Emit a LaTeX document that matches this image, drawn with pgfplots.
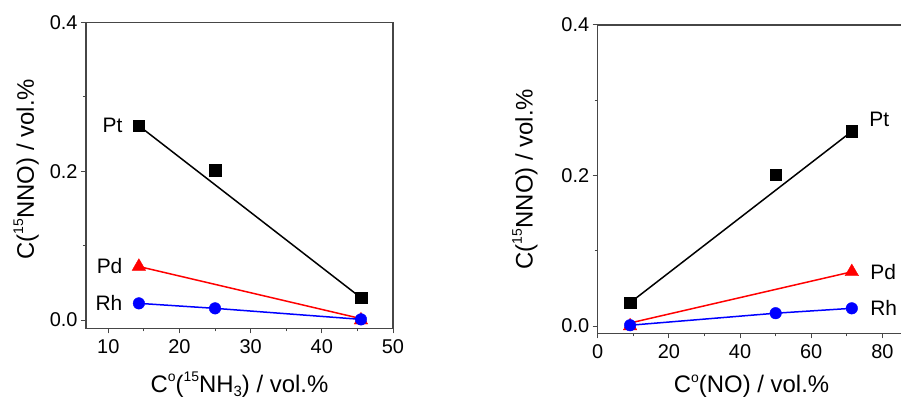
\documentclass[border=0pt]{standalone}
\usepackage{fontspec}
\setmainfont{Liberation Sans}
\usepackage{pgfplots}
\pgfplotsset{compat=1.18}
\definecolor{axgray}{RGB}{70,70,70}
\tikzset{lab/.style={font=\fontsize{21}{24}\selectfont}}
\newcommand{\sub}[1]{\raisebox{-0.35ex}{\fontsize{15}{16}\selectfont #1}}
\newcommand{\sups}[1]{\raisebox{0.85ex}{\fontsize{14}{16}\selectfont #1}}
\pgfplotsset{
  common/.style={
    scale only axis,
    anchor=south west,
    clip=false,
    axis line style={line width=1.2bp, draw=axgray},
    tick style={line width=1bp, draw=axgray},
    tick align=outside,
    tick pos=left,
    major tick length=5bp,
    minor tick length=3bp,
    ymax=0.4,
    ytick={0,0.2,0.4},
    minor ytick={0.1,0.3},
    yticklabel style={/pgf/number format/.cd, fixed, fixed zerofill, precision=1},
    xticklabel style={yshift=-3bp},
    /pgf/number format/assume math mode=true,
    tick label style={font=\fontsize{20}{23}\selectfont},
    label style={font=\fontsize{24}{28}\selectfont},
  },
  pt/.style={draw=none, mark=square*, mark size=5.8bp, mark options={fill=black, draw=black}},
  pd/.style={draw=none, mark=triangle*, mark size=7.8bp, mark options={fill=red, draw=red}},
  rh/.style={draw=none, mark=*, mark size=5.8bp, mark options={fill=blue, draw=blue}},
}
\begin{document}
\begin{tikzpicture}
\useasboundingbox (0bp,0bp) rectangle (901bp,401bp);
% ---------------- left panel ----------------
\begin{axis}[common,
  at={(86bp,72.7bp)}, width=307bp, height=306bp,
  xmin=6.87, xmax=50, ymin=-0.011,
  xtick={10,20,30,40,50}, minor xtick={15,25,35,45},
  xlabel={C\sups{o}(\sups{15}NH\sub{3}) / vol.\%},
  ylabel={C(\sups{15}NNO) / vol.\%},
  xlabel style={at={(axis description cs:0.5,-0.2085)}, anchor=base},
  ylabel style={at={(axis description cs:-0.195,0.52)}, anchor=center},
]
\addplot[black, line width=1.5bp] coordinates {(14.3,0.261) (45.5,0.030)};
\addplot[red, line width=1.5bp] coordinates {(14.3,0.072) (45.5,0.002)};
\addplot[blue, line width=1.5bp] coordinates {(14.3,0.0225) (25,0.0158) (45.5,0.001)};
\addplot[pt] coordinates {(14.3,0.261) (25,0.201) (45.5,0.030)};
\addplot[pd] coordinates {(14.3,0.072) (45.5,0.0)};
\addplot[rh] coordinates {(14.3,0.0225) (25,0.0158) (45.5,0.001)};
\node[lab, anchor=east] at (axis cs:14.3,0.261) [xshift=-13bp] {Pt};
\node[lab, anchor=east] at (axis cs:14.3,0.072) [xshift=-13bp] {Pd};
\node[lab, anchor=east] at (axis cs:14.3,0.0225) [xshift=-13bp] {Rh};
\end{axis}
% ---------------- right panel ----------------
\begin{axis}[common,
  at={(597.7bp,67.7bp)}, width=305.3bp, height=308.3bp,
  xmin=0, xmax=85.78, ymin=-0.0097,
  xtick={0,20,40,60,80}, minor xtick={10,30,50,70},
  xlabel={C\sups{o}(NO) / vol.\%},
  ylabel={C(\sups{15}NNO) / vol.\%},
  xlabel style={at={(axis description cs:0.504,-0.1935)}, anchor=base},
  ylabel style={at={(axis description cs:-0.238,0.5)}, anchor=center},
]
\addplot[black, line width=1.5bp] coordinates {(9.1,0.031) (71.4,0.2586)};
\addplot[red, line width=1.5bp] coordinates {(9.1,0.004) (71.4,0.072)};
\addplot[blue, line width=1.5bp] coordinates {(9.1,0.001) (50,0.017) (71.4,0.0235)};
\addplot[pt] coordinates {(9.1,0.031) (50,0.201) (71.4,0.2586)};
\addplot[pd] coordinates {(9.1,0.0) (71.4,0.072)};
\addplot[rh] coordinates {(9.1,0.001) (50,0.017) (71.4,0.0235)};
\node[lab, anchor=west] at (axis cs:71.4,0.2586) [xshift=14bp, yshift=12bp] {Pt};
\node[lab, anchor=west] at (axis cs:71.4,0.072) [xshift=15bp] {Pd};
\node[lab, anchor=west] at (axis cs:71.4,0.0235) [xshift=15bp] {Rh};
\end{axis}
\end{tikzpicture}
\end{document}
